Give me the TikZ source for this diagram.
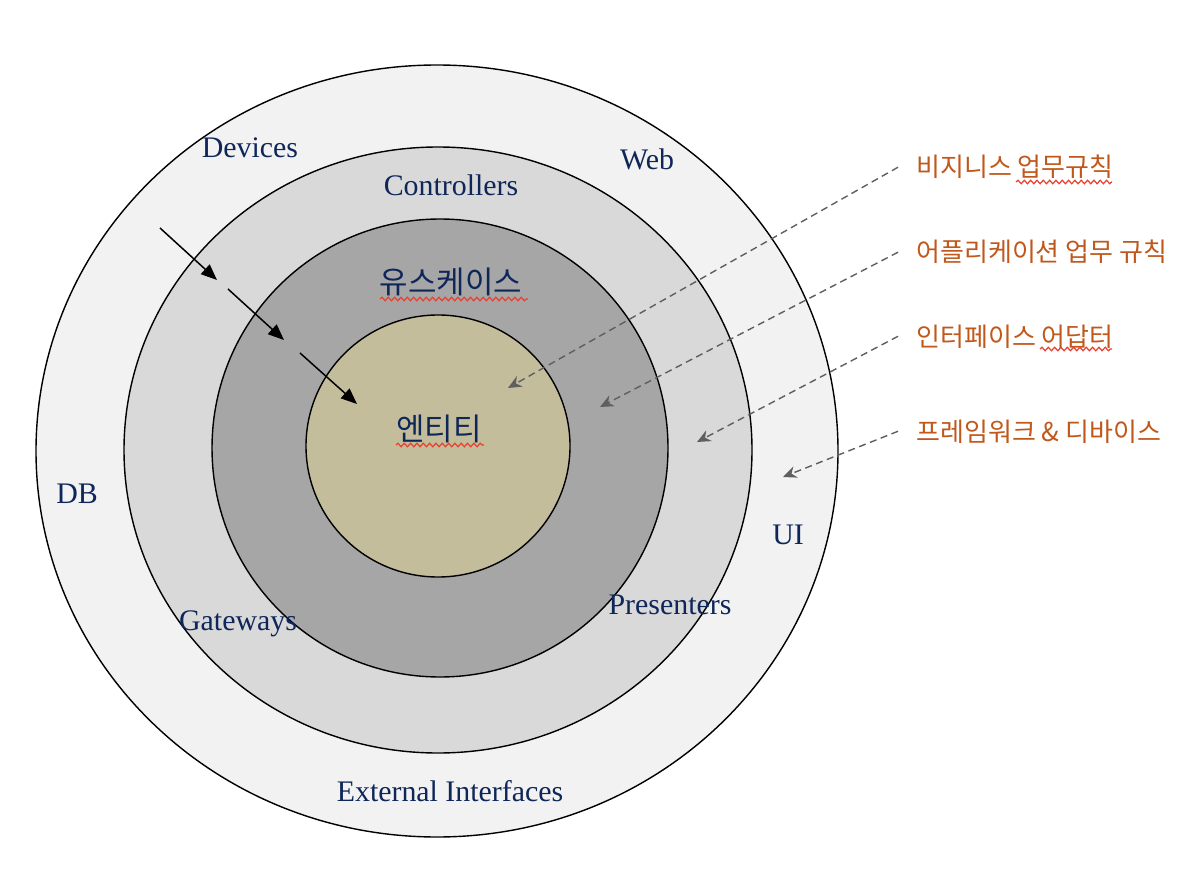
\documentclass[tikz,border=0pt]{standalone}
\usepackage{fontspec}
\setmainfont{Liberation Serif}
\newfontfamily\kofont{Noto Sans CJK KR}
\usetikzlibrary{arrows.meta,decorations.pathmorphing}
\definecolor{ringouter}{HTML}{F2F2F2}
\definecolor{ringadapt}{HTML}{D9D9D9}
\definecolor{ringcase}{HTML}{A6A6A6}
\definecolor{ringcore}{HTML}{C3BD9B}
\definecolor{labelnavy}{HTML}{0F2659}
\definecolor{noteorange}{HTML}{C0581C}
\definecolor{notegray}{HTML}{5F5F5F}
\definecolor{spellred}{HTML}{E8412F}

\begin{document}
\begin{tikzpicture}[
  x=0.02cm,
  y=-0.02cm,
  ring/.style={draw=black, line width=0.8pt},
  ringlab/.style={labelnavy, font=\fontsize{17}{20}\selectfont, anchor=base, inner sep=0pt},
  corelab/.style={labelnavy, font=\kofont\fontsize{17.6}{20}\selectfont, anchor=base, inner sep=0pt},
  notelab/.style={noteorange, font=\kofont\fontsize{14.8}{17}\selectfont,
                  anchor=base west, inner ysep=0pt, inner xsep=0.36cm},
  flow/.style={black, line width=0.85pt, -{Triangle[length=0.32cm, width=0.26cm]}},
  pointer/.style={notegray, line width=0.8pt, dash pattern=on 4pt off 2.6pt,
                  -{Stealth[length=0.27cm, width=0.24cm]}},
  squiggle/.style={spellred, line width=0.7pt, decorate,
                   decoration={snake, amplitude=1pt, segment length=3.6pt}}
]
  % ---- page frame ----
  \useasboundingbox (0,0) rectangle (1202,878);

  % ---- the four rings, outermost first ----
  \foreach \cx/\cy/\rx/\ry/\col in {437/451/401/386/ringouter,
                                     438/450/314/303/ringadapt,
                                     440/448/228/229/ringcase,
                                     438/446/132/131/ringcore}
    \draw[ring, fill=\col] (\cx,\cy) ellipse [x radius=\rx, y radius=\ry];

  % ---- ring labels ----
  \node[ringlab] (devices)   at (250,158) {Devices};
  \node[ringlab] (web)       at (647,170) {Web};
  \node[ringlab] (ctrl)      at (451,196) {Controllers};
  \node[ringlab] (db)        at (77,503)  {DB};
  \node[ringlab] (ui)        at (788,544) {UI};
  \node[ringlab] (gateways)  at (238,630) {Gateways};
  \node[ringlab] (presenter) at (670,614) {Presenters};
  \node[ringlab] (external)  at (450,801) {External Interfaces};
  \node[corelab] (usecase)   at (451,294) {유스케이스};
  \node[corelab] (entity)    at (439,440) {엔티티};

  % ---- dependency direction, pointing inwards ----
  \coordinate (f1a) at (160,228);  \coordinate (f1b) at (217,280);
  \coordinate (f2a) at (228,289);  \coordinate (f2b) at (284,340);
  \coordinate (f3a) at (300,353);  \coordinate (f3b) at (357,404);
  \foreach \i in {1,2,3}
    \draw[flow] (f\i a) -- (f\i b);

  % ---- notes on the right ----
  \node[notelab] (bizrule) at (898,177) {비지니스 업무규칙};
  \node[notelab] (apprule) at (898,262) {어플리케이션 업무 규칙};
  \node[notelab] (adapter) at (898,346) {인터페이스 어답터};
  \node[notelab] (frame)   at (898,441) {프레임워크 \& 디바이스};

  \coordinate (biztip)   at (508,388);
  \coordinate (apptip)   at (600,407);
  \coordinate (adapttip) at (697,442);
  \coordinate (frametip) at (783,477);

  \draw[pointer] (bizrule.west) -- (biztip);
  \draw[pointer] (apprule.west) -- (apptip);
  \draw[pointer] (adapter.west) -- (adapttip);
  \draw[pointer] (frame.west)   -- (frametip);

  % ---- spell-check marks ----
  \draw[squiggle] (380,299) -- (528,299);
  \draw[squiggle] (396,445) -- (484,445);
  \draw[squiggle] (1016,182) -- (1112,182);
  \draw[squiggle] (1040,349) -- (1112,349);
\end{tikzpicture}
\end{document}
